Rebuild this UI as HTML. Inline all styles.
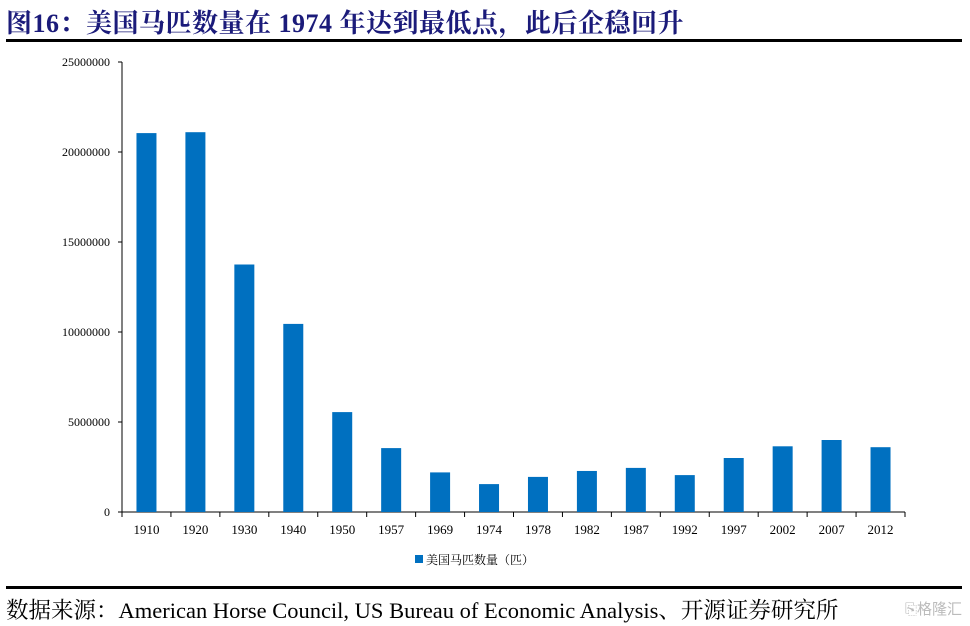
<!DOCTYPE html>
<html><head><meta charset="utf-8"><style>
body{margin:0;width:970px;height:626px;background:#fff;overflow:hidden;position:relative;font-family:"Liberation Serif","Noto Serif CJK SC",serif}
.title{position:absolute;left:6px;top:3px;font-size:26px;font-weight:bold;color:#1b1b7a;letter-spacing:0.5px;font-family:"Liberation Serif","Noto Serif CJK SC",serif}
.rule{position:absolute;left:6px;width:956px;height:3px;background:#000}
.src{position:absolute;left:6px;top:593px;font-size:22.5px;color:#000}
.logo{position:absolute;right:8px;top:598px;font-size:15px;color:#bbb;font-family:"Liberation Sans","Noto Sans CJK SC",sans-serif}
</style></head><body>
<div class="title">图16：美国马匹数量在 1974 年达到最低点，此后企稳回升</div>
<div class="rule" style="top:39px"></div>
<svg id="chart" width="970" height="626" style="position:absolute;left:0;top:0"></svg>
<div class="rule" style="top:586px"></div>
<div class="src">数据来源：American Horse Council, US Bureau of Economic Analysis、开源证券研究所</div>
<div class="logo">⎘格隆汇</div>
<script>
const categories=["1910","1920","1930","1940","1950","1957","1969","1974","1978","1982","1987","1992","1997","2002","2007","2012"];
const horses=[21050000,21100000,13750000,10450000,5550000,3550000,2200000,1550000,1950000,2280000,2450000,2050000,3000000,3650000,4000000,3600000];
const yTicks=[0,5000000,10000000,15000000,20000000,25000000];
const NS="http://www.w3.org/2000/svg";
const svg=document.getElementById('chart');
const X0=122,X1=905,Y0=512,Y1=62,YMAX=25000000;
const step=(X1-X0)/categories.length,bw=20;
const y=v=>Y0-(v/YMAX)*(Y0-Y1);
const xc=i=>X0+step*(i+0.5);
function mk(t,a){const e=document.createElementNS(NS,t);for(const k in a)e.setAttribute(k,a[k]);svg.appendChild(e);return e;}
let e=mk('line',{x1:X0,y1:Y1,x2:X0,y2:Y0,stroke:'#000','stroke-width':1});

e=mk('line',{x1:X0,y1:Y0,x2:X1,y2:Y0,stroke:'#000','stroke-width':1});

yTicks.forEach(t=>{
 const l=mk('line',{x1:X0-4,y1:y(t),x2:X0,y2:y(t),stroke:'#000'});
 
 const tx=mk('text',{x:X0-12,y:y(t)+4,'text-anchor':'end','font-size':12,'font-family':'Liberation Serif, serif'});
 tx.textContent=t;
 
});
for(let i=0;i<=categories.length;i++){
 const l=mk('line',{x1:X0+step*i,y1:Y0,x2:X0+step*i,y2:Y0+5,stroke:'#000'});
 
}
categories.forEach((c,i)=>{
 const r=mk('rect',{x:xc(i)-bw/2,y:y(horses[i]),width:bw,height:Y0-y(horses[i]),fill:'#0070c0'});
 
 const t=mk('text',{x:xc(i),y:534,'text-anchor':'middle','font-size':13,'font-family':'Liberation Serif, serif'});
 t.textContent=c;
 
});
e=mk('rect',{x:415,y:555,width:8,height:8,fill:'#0070c0'});

e=mk('text',{x:426,y:564,'font-size':12,'font-family':'Liberation Serif, Noto Serif CJK SC, serif'});
e.textContent='美国马匹数量（匹）';

</script>
</body></html>
